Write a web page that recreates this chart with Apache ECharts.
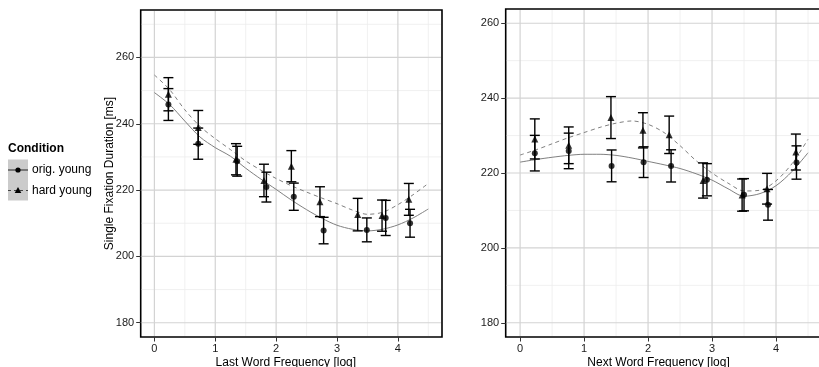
<!DOCTYPE html>
<html>
<head>
<meta charset="utf-8">
<script src="https://cdn.jsdelivr.net/npm/echarts@6/dist/echarts.min.js"></script>
<style>
html, body { margin: 0; padding: 0; background: #fff; }
#chart { width: 819px; height: 367px; }
</style>
</head>
<body>
<div id="chart"></div>
<script>
// ---- Left panel: last word frequency ----
const lastFreqOrig = [0.23, 0.72, 1.36, 1.84, 2.29, 2.78, 3.49, 3.80, 4.20];
const lastDurOrig  = [245.8, 234.0, 228.7, 220.9, 218.0, 207.8, 208.0, 211.6, 210.0];
const lastSeOrig   = [4.8, 4.7, 4.5, 4.5, 4.1, 4.0, 3.6, 5.3, 4.2];
const lastFreqHard = [0.23, 0.72, 1.34, 1.80, 2.25, 2.72, 3.34, 3.74, 4.18];
const lastDurHard  = [248.9, 238.9, 229.3, 222.9, 227.2, 216.5, 212.6, 212.3, 217.2];
const lastSeHard   = [5.0, 5.1, 4.7, 4.9, 4.7, 4.5, 4.9, 4.7, 4.8];

// fitted curves, sampled every 0.25 log units
const fitX = [0, 0.25, 0.5, 0.75, 1, 1.25, 1.5, 1.75, 2, 2.25, 2.5, 2.75, 3, 3.25, 3.5, 3.75, 4, 4.25, 4.5];
const lastFitOrig = [249.4, 245.8, 240.8, 236.0, 232.8, 230.2, 226.6, 223.3, 220.2, 217.0, 214.1, 211.5, 209.4, 208.2, 207.7, 208.2, 209.5, 211.6, 214.3];
const lastFitHard = [254.7, 250.3, 244.2, 239.2, 235.5, 232.2, 228.8, 226.0, 223.5, 221.3, 219.4, 217.6, 215.9, 214.0, 212.7, 213.3, 215.6, 218.6, 222.0];

// ---- Right panel: next word frequency ----
const nextFreqOrig = [0.23, 0.76, 1.43, 1.93, 2.36, 2.92, 3.50, 3.875, 4.32];
const nextDurOrig  = [225.3, 225.9, 221.9, 222.9, 221.9, 218.2, 214.2, 211.5, 222.8];
const nextSeOrig   = [4.75, 4.75, 4.25, 4.1, 4.3, 4.3, 4.3, 4.1, 4.45];
const nextFreqHard = [0.23, 0.76, 1.42, 1.92, 2.33, 2.86, 3.47, 3.86, 4.31];
const nextDurHard  = [229.1, 227.4, 234.8, 231.4, 230.2, 218.0, 214.1, 215.8, 225.6];
const nextSeHard   = [5.35, 4.9, 5.6, 4.7, 5.0, 4.7, 4.3, 4.1, 4.8];

const nextFitOrig = [222.9, 223.6, 224.2, 224.7, 225.0, 225.0, 224.7, 224.0, 223.1, 222.2, 221.2, 219.8, 218.1, 215.8, 213.8, 214.5, 216.6, 220.4, 225.4];
const nextFitHard = [224.8, 226.2, 227.8, 229.4, 230.8, 232.2, 233.3, 233.9, 233.0, 230.8, 227.3, 223.3, 220.0, 217.3, 215.2, 215.4, 217.9, 222.5, 229.0];

// ---- axis breaks ----
const xMajor = [0, 1, 2, 3, 4];
const xMinor = [0.5, 1.5, 2.5, 3.5, 4.5];
const yMajor = [180, 200, 220, 240, 260];
const yMinorLeft = [190, 210, 230, 250, 270];
const yMinorRight = [190, 210, 230, 250];
const conditions = ['orig. young', 'hard young'];

const FONT = 'Liberation Sans, Arial, Helvetica, sans-serif';
const INK = '#000';
const FIT = '#808080';

const zip = (xs, ys) => xs.map((x, i) => [x, ys[i]]);
const bars = (xs, ys, se) => xs.map((x, i) => [x, ys[i] - se[i], ys[i] + se[i]]);

// background grid lines: [value, vertical?, major?]
function gridLineData(xMaj, xMin, yMaj, yMin) {
  const d = [];
  xMin.forEach(v => d.push([v, 1, 0]));
  yMin.forEach(v => d.push([v, 0, 0]));
  xMaj.forEach(v => d.push([v, 1, 1]));
  yMaj.forEach(v => d.push([v, 0, 1]));
  return d;
}
function renderGridLine(params, api) {
  const cs = params.coordSys;
  const v = api.value(0), vertical = api.value(1), major = api.value(2);
  let shape;
  if (vertical) {
    const x = api.coord([v, 220])[0];
    if (x < cs.x + 1 || x > cs.x + cs.width - 1) return null;
    shape = { x1: x, y1: cs.y + 1, x2: x, y2: cs.y + cs.height - 1 };
  } else {
    const y = api.coord([1, v])[1];
    if (y < cs.y + 1 || y > cs.y + cs.height - 1) return null;
    shape = { x1: cs.x + 1, y1: y, x2: cs.x + cs.width - 1, y2: y };
  }
  return {
    type: 'line', shape: shape,
    style: { stroke: major ? '#d3d3d3' : '#ececec', lineWidth: major ? 1.2 : 0.8 }
  };
}
function renderErrorBar(params, api) {
  const lo = api.coord([api.value(0), api.value(1)]);
  const hi = api.coord([api.value(0), api.value(2)]);
  const hw = 5;
  const st = { stroke: INK, lineWidth: 1.4 };
  return {
    type: 'group',
    children: [
      { type: 'line', shape: { x1: lo[0], y1: lo[1], x2: hi[0], y2: hi[1] }, style: st },
      { type: 'line', shape: { x1: lo[0] - hw, y1: lo[1], x2: lo[0] + hw, y2: lo[1] }, style: st },
      { type: 'line', shape: { x1: hi[0] - hw, y1: hi[1], x2: hi[0] + hw, y2: hi[1] }, style: st }
    ]
  };
}

function xAxisFor(idx, title) {
  return {
    type: 'value', gridIndex: idx, min: -0.225, max: 4.725,
    axisLine: { show: false, onZero: false },
    axisTick: { show: true, customValues: xMajor, length: 4.5, lineStyle: { color: '#333', width: 1 } },
    axisLabel: { customValues: xMajor, color: '#1a1a1a', fontSize: 11, fontFamily: FONT, margin: 6.5 },
    splitLine: { show: false },
    name: title, nameLocation: 'middle', nameGap: 19.5, nameMoveOverlap: false,
    nameTextStyle: { color: INK, fontSize: 12, fontFamily: FONT, padding: [0, 11, 0, 0] }
  };
}
function yAxisFor(idx, min, max, title) {
  const ax = {
    type: 'value', gridIndex: idx, min: min, max: max,
    axisLine: { show: false, onZero: false },
    axisTick: { show: true, customValues: yMajor, length: 4.5, lineStyle: { color: '#333', width: 1 } },
    axisLabel: { customValues: yMajor, color: '#1a1a1a', fontSize: 11, fontFamily: FONT, margin: 6.5 },
    splitLine: { show: false }
  };
  if (title) {
    ax.name = title;
    ax.nameLocation = 'middle';
    ax.nameGap = 25;
    ax.nameMoveOverlap = false;
    ax.nameTextStyle = { color: INK, fontSize: 12, fontFamily: FONT };
  }
  return ax;
}

function panelSeries(idx, fOrig, dOrig, sOrig, fHard, dHard, sHard, fitO, fitH, yMinor) {
  const ax = { xAxisIndex: idx, yAxisIndex: idx };
  return [
    Object.assign({ type: 'custom', name: 'grid' + idx, silent: true, z: 1,
      renderItem: renderGridLine, data: gridLineData(xMajor, xMinor, yMajor, yMinor) }, ax),
    Object.assign({ type: 'line', name: conditions[0], data: zip(fitX, fitO), smooth: 0.3,
      showSymbol: false, z: 2, lineStyle: { color: FIT, width: 1, type: 'solid' } }, ax),
    Object.assign({ type: 'line', name: conditions[1], data: zip(fitX, fitH), smooth: 0.3,
      showSymbol: false, z: 2, lineStyle: { color: FIT, width: 1, type: [4, 3.5] } }, ax),
    Object.assign({ type: 'custom', name: conditions[0] + ' se', z: 3,
      renderItem: renderErrorBar, data: bars(fOrig, dOrig, sOrig) }, ax),
    Object.assign({ type: 'custom', name: conditions[1] + ' se', z: 3,
      renderItem: renderErrorBar, data: bars(fHard, dHard, sHard) }, ax),
    Object.assign({ type: 'scatter', name: conditions[0], data: zip(fOrig, dOrig), z: 4,
      symbol: 'circle', symbolSize: 6, itemStyle: { color: INK } }, ax),
    Object.assign({ type: 'scatter', name: conditions[1], data: zip(fHard, dHard), z: 4,
      symbol: 'triangle', symbolSize: 7, itemStyle: { color: INK } }, ax)
  ];
}

// legend drawn as keys on grey tiles
const legendGraphic = [
  { type: 'text', left: 8, top: 143, style: { text: 'Condition', font: 'bold 12px ' + FONT, fill: INK } },
  { type: 'rect', shape: { x: 8, y: 159.5, width: 20, height: 41 }, style: { fill: '#cbcbcb' } },
  { type: 'line', shape: { x1: 8, y1: 170, x2: 28, y2: 170 }, style: { stroke: '#222', lineWidth: 1 } },
  { type: 'circle', shape: { cx: 18, cy: 170, r: 2.6 }, style: { fill: INK } },
  { type: 'line', shape: { x1: 8, y1: 190.5, x2: 28, y2: 190.5 }, style: { stroke: '#444', lineWidth: 1, lineDash: [3, 3] } },
  { type: 'polygon', shape: { points: [[18, 187], [21.3, 193], [14.7, 193]] }, style: { fill: INK } },
  { type: 'text', left: 32, top: 164, style: { text: conditions[0], font: '12px ' + FONT, fill: INK } },
  { type: 'text', left: 32, top: 185, style: { text: conditions[1], font: '12px ' + FONT, fill: INK } }
];

const chart = echarts.init(document.getElementById('chart'), null, { renderer: 'canvas' });
chart.setOption({
  animation: false,
  backgroundColor: '#fff',
  textStyle: { fontFamily: FONT },
  grid: [
    { left: 140.7, top: 10, width: 301.3, height: 327, outerBoundsMode: 'none', containLabel: false,
      show: true, borderColor: '#000', borderWidth: 1.6, backgroundColor: 'transparent' },
    { left: 505.7, top: 9, width: 316.7, height: 328, outerBoundsMode: 'none', containLabel: false,
      show: true, borderColor: '#000', borderWidth: 1.6, backgroundColor: 'transparent' }
  ],
  xAxis: [xAxisFor(0, 'Last Word Frequency [log]'), xAxisFor(1, 'Next Word Frequency [log]')],
  yAxis: [yAxisFor(0, 175.7, 274.3, 'Single Fixation Duration [ms]'), yAxisFor(1, 176.2, 263.8, null)],
  series: [].concat(
    panelSeries(0, lastFreqOrig, lastDurOrig, lastSeOrig, lastFreqHard, lastDurHard, lastSeHard, lastFitOrig, lastFitHard, yMinorLeft),
    panelSeries(1, nextFreqOrig, nextDurOrig, nextSeOrig, nextFreqHard, nextDurHard, nextSeHard, nextFitOrig, nextFitHard, yMinorRight)
  ),
  graphic: legendGraphic
});
</script>
</body>
</html>
